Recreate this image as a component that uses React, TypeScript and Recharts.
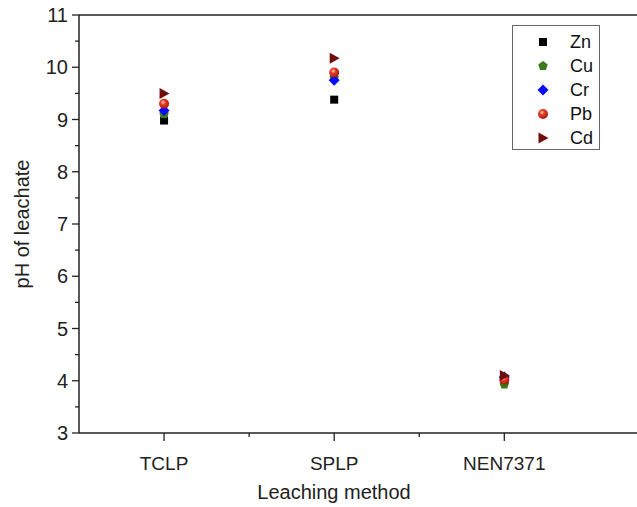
import React from 'react';
import { ScatterChart, Scatter, XAxis, YAxis, ReferenceLine, Legend } from 'recharts';

const methods = ['TCLP', 'SPLP', 'NEN7371'];
const zn = [8.98, 9.38, 4.0];
const cu = [9.1, 9.8, 3.93];
const cr = [9.17, 9.75, 4.07];
const pb = [9.3, 9.9, 4.02];
const cd = [9.5, 10.17, 4.1];

const yTicks = [3, 3.5, 4, 4.5, 5, 5.5, 6, 6.5, 7, 7.5, 8, 8.5, 9, 9.5, 10, 10.5, 11];
const xTicks = [1, 1.5, 2, 2.5, 3];

const FONT = '"Liberation Sans", Arial, sans-serif';
const AXIS = '#222';

const toPoints = (vals: number[]) => vals.map((v, i) => ({ x: i + 1, y: v }));

function Marker({ kind, cx, cy }: { kind: string; cx: number; cy: number }) {
  if (kind === 'Zn') return <rect x={cx - 4} y={cy - 4} width={8} height={8} fill="#000" />;
  if (kind === 'Cu') {
    const r = 5;
    const pts = [0, 1, 2, 3, 4]
      .map((k) => {
        const a = -Math.PI / 2 + (k * 2 * Math.PI) / 5;
        return `${cx + r * Math.cos(a)},${cy + r * Math.sin(a)}`;
      })
      .join(' ');
    return <polygon points={pts} fill="#3a7a1c" />;
  }
  if (kind === 'Cr')
    return <polygon points={`${cx},${cy - 5.5} ${cx + 5.5},${cy} ${cx},${cy + 5.5} ${cx - 5.5},${cy}`} fill="#0a0aff" />;
  if (kind === 'Pb') return <circle cx={cx} cy={cy} r={5} fill="url(#pbGrad)" />;
  return <polygon points={`${cx - 4.5},${cy - 5.5} ${cx + 5.5},${cy} ${cx - 4.5},${cy + 5.5}`} fill="#6e0f0c" />;
}

const series = [
  { name: 'Zn', values: zn },
  { name: 'Cu', values: cu },
  { name: 'Cr', values: cr },
  { name: 'Pb', values: pb },
  { name: 'Cd', values: cd },
];

function YTick(props: any) {
  const { x, y, payload } = props;
  const major = Number.isInteger(payload.value);
  return (
    <g>
      <line x1={x} x2={x - (major ? 7 : 4)} y1={y} y2={y} stroke={AXIS} strokeWidth={1.3} />
      {major && (
        <text x={x - 11} y={y} dy={7} textAnchor="end" fontSize={20} fill={AXIS} fontFamily={FONT}>
          {payload.value}
        </text>
      )}
    </g>
  );
}

function XTick(props: any) {
  const { x, y, payload } = props;
  const major = Number.isInteger(payload.value);
  return (
    <g>
      <line x1={x} x2={x} y1={y} y2={y + (major ? 8 : 4)} stroke={AXIS} strokeWidth={1.3} />
      {major && (
        <text x={x} y={y + 37} textAnchor="middle" fontSize={19} fill={AXIS} fontFamily={FONT}>
          {methods[payload.value - 1]}
        </text>
      )}
    </g>
  );
}

function LegendBox() {
  return (
    <div
      style={{
        width: 88,
        height: 125,
        border: '1px solid #666',
        boxSizing: 'border-box',
        background: '#fff',
        fontFamily: FONT,
        fontSize: 18,
        color: '#111',
        paddingTop: 4,
      }}
    >
      {series.map((s) => (
        <div key={s.name} style={{ display: 'flex', alignItems: 'center', height: 24 }}>
          <svg width={44} height={20} style={{ display: 'block' }}>
            <Marker kind={s.name} cx={30} cy={10} />
          </svg>
          <span style={{ marginLeft: 13 }}>{s.name}</span>
        </div>
      ))}
    </div>
  );
}

export default function App() {
  return (
    <div style={{ position: 'absolute', left: 0, top: 0, background: '#fff' }}>
      <ScatterChart width={637} height={507} margin={{ top: 15, right: 0, bottom: 0, left: 0 }}>
        <defs>
          <radialGradient id="pbGrad" cx="0.4" cy="0.35" r="0.65">
            <stop offset="0%" stopColor="#ffd8cc" />
            <stop offset="35%" stopColor="#e8402a" />
            <stop offset="100%" stopColor="#a8180c" />
          </radialGradient>
        </defs>
        <XAxis
          type="number"
          dataKey="x"
          domain={[0.5, 3.78]}
          ticks={xTicks}
          allowDataOverflow
          height={74}
          tickSize={0}
          tickMargin={0}
          tickLine={false}
          axisLine={{ stroke: AXIS, strokeWidth: 1.5 }}
          tick={<XTick />}
          label={{
            value: 'Leaching method',
            position: 'insideBottom',
            dx: -24,
            offset: 8,
            style: { fontSize: 20, fill: AXIS, fontFamily: FONT },
          }}
        />
        <YAxis
          type="number"
          dataKey="y"
          domain={[3, 11]}
          ticks={yTicks}
          interval={0}
          width={79}
          tickSize={0}
          tickMargin={0}
          tickLine={false}
          axisLine={{ stroke: AXIS, strokeWidth: 1.5 }}
          tick={<YTick />}
          label={{
            value: 'pH of leachate',
            angle: -90,
            position: 'insideLeft',
            offset: 22,
            style: { fontSize: 20, fill: AXIS, fontFamily: FONT, textAnchor: 'middle' },
          }}
        />
        <ReferenceLine y={11} stroke={AXIS} strokeWidth={1.5} />
        {series.map((s) => (
          <Scatter
            key={s.name}
            name={s.name}
            data={toPoints(s.values)}
            isAnimationActive={false}
            shape={(p: any) => <Marker kind={s.name} cx={p.cx} cy={p.cy} />}
          />
        ))}
        <Legend
          layout="vertical"
          align="center"
          verticalAlign="middle"
          wrapperStyle={{ left: 512, top: 25, width: 88, height: 125 }}
          content={() => <LegendBox />}
        />
      </ScatterChart>
    </div>
  );
}
